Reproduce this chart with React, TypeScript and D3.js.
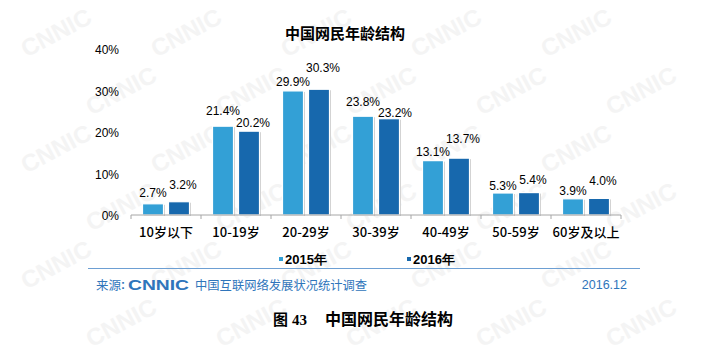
import * as d3 from 'd3';

const categories = ['10岁以下', '10-19岁', '20-29岁', '30-39岁', '40-49岁', '50-59岁', '60岁及以上'];
const values2015 = [2.7, 21.4, 29.9, 23.8, 13.1, 5.3, 3.9];
const values2016 = [3.2, 20.2, 30.3, 23.2, 13.7, 5.4, 4.0];
const seriesNames = ['2015年', '2016年'];
const yTicks = [0, 10, 20, 30, 40];

const colors = ['#33a0d6', '#1768ad'];
// label lift above the bar top, as placed by hand in the original
const lift2015 = [7, 11, 5, 10, 5, 3, 4];
const lift2016 = [13, 4, 17, 2, 15, 9, 13];
const shift2016 = [4, 4, 4, 6, 4, 4, 4];
const W = 716, H = 354;
const margin = { left: 131, right: 96, top: 49, bottom: 139 };

const App = () => {
  const x = d3.scaleBand<string>().domain(categories).range([margin.left, margin.left + 7 * 70]);
  const y = d3.scaleLinear().domain([0, 40]).range([H - margin.bottom, margin.top]);
  const barW = 21;
  const gap = 5;
  const series = [values2015, values2016];
  const lifts = [lift2015, lift2016];

  // faint watermark grid, kept inside the picture
  const marks: { x: number; y: number }[] = [];
  for (let r = 0; r < 6; r++) {
    for (let c = 0; c < 6; c++) {
      const mx = 60 + c * 130 + (r % 2) * 65;
      const my = 40 + r * 58;
      if (mx < 40 || mx > W - 40 || my > H - 20) continue;
      marks.push({ x: mx, y: my });
    }
  }

  return (
    <svg width={W} height={H} style={{ position: 'absolute', left: 0, top: 0 }}>
      <rect width={W} height={H} fill="#fff" />
      {marks.map((m, i) => (
        <text key={i} transform={`translate(${m.x},${m.y}) rotate(-28)`} fontFamily="Liberation Sans, Arial"
          fontWeight="bold" fontSize={24} fill="#f4f4f4" textAnchor="middle">CNNIC</text>
      ))}
      <text x={345} y={39} textAnchor="middle" fontFamily="Noto Sans CJK SC" fontWeight="bold" fontSize={15} fill="#000">
        中国网民年龄结构
      </text>
      {yTicks.map(t => (
        <text key={t} x={119} y={y(t) + 5} textAnchor="end" fontFamily="Liberation Sans, Arial" fontSize={12} fill="#000">
          {t}%
        </text>
      ))}
      {categories.map((c, i) => {
        const cx = x(c)! + x.bandwidth() / 2;
        return (
          <g key={c}>
            {series.map((vals, s) => {
              const bx = s === 0 ? cx - gap / 2 - barW : cx + gap / 2;
              const by = y(vals[i]);
              const bh = y(0) - by;
              return (
                <g key={s}>
                  <rect x={bx + 1.5} y={by + 1} width={barW} height={bh} fill="#cfcfcf" />
                  <rect x={bx} y={by} width={barW} height={bh} fill={colors[s]} stroke="#fff" strokeWidth={1.2} />
                  <text x={bx + barW / 2 + (s === 0 ? 0 : shift2016[i])} y={by - lifts[s][i]} textAnchor="middle"
                    fontFamily="Liberation Sans, Arial" fontSize={12} fill="#000">
                    {vals[i].toFixed(1)}%
                  </text>
                </g>
              );
            })}
            <text x={cx} y={y(0) + 22} textAnchor="middle" fontFamily="Noto Sans CJK SC" fontWeight={500} fontSize={13} fill="#000">
              {c}
            </text>
          </g>
        );
      })}
      <line x1={margin.left} x2={x.range()[1]} y1={y(0)} y2={y(0)} stroke="#a6a6a6" strokeWidth={1} />
      {d3.range(categories.length + 1).map(i => {
        const tx = margin.left + i * x.step();
        return <line key={i} x1={tx} x2={tx} y1={y(0)} y2={y(0) + 4} stroke="#a6a6a6" />;
      })}
      {seriesNames.map((n, i) => (
        <g key={n} transform={`translate(${279 + i * 128},${264})`}>
          <rect x={0} y={-7} width={4} height={4} fill={colors[i]} />
          <text x={6} y={0} fontFamily="Liberation Sans, Arial" fontWeight="bold" fontSize={13} fill="#000">{n}</text>
        </g>
      ))}
      <line x1={88} x2={640} y1={268.5} y2={268.5} stroke="#6d9fd3" strokeWidth={1} />
      <text x={96} y={290} fontFamily="Noto Sans CJK SC" fontSize={12.5} fill="#2f75bb">来源</text>
      <text x={121} y={289} fontFamily="Liberation Sans, Arial" fontWeight="bold" fontSize={12} fill="#2f75bb">:</text>
      <text x={128} y={290} fontFamily="Liberation Sans, Arial" fontWeight="bold" fontSize={15} fill="#2f75bb"
        textLength={61} lengthAdjust="spacingAndGlyphs">CNNIC</text>
      <text x={195} y={289.5} fontFamily="Noto Sans CJK SC" fontSize={12.3} fill="#2f75bb">中国互联网络发展状况统计调查</text>
      <text x={627} y={289} textAnchor="end" fontFamily="Liberation Sans, Arial" fontSize={12.5} fill="#2f75bb">2016.12</text>
      <text x={273} y={325} fontFamily="Noto Sans CJK SC" fontWeight="bold" fontSize={15} fill="#000">图</text>
      <text x={292} y={325} fontFamily="Liberation Serif, Times New Roman" fontWeight="bold" fontSize={15} fill="#000">43</text>
      <text x={325} y={325} fontFamily="Noto Sans CJK SC" fontWeight="bold" fontSize={16} fill="#000">中国网民年龄结构</text>
    </svg>
  );
};

export default App;
